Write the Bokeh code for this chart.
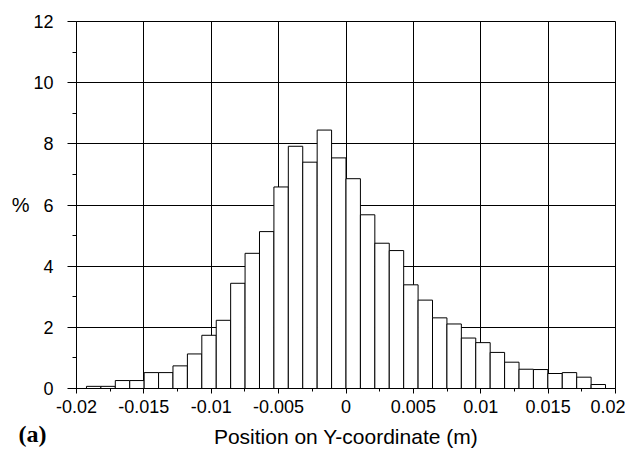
from bokeh.plotting import figure
from bokeh.models import FixedTicker, ColumnDataSource, Range1d, Title
from bokeh.embed import file_html
from bokeh.resources import INLINE

# Histogram bins (m) and percentages
bin_left = [-0.01926, -0.01819, -0.01712, -0.01605, -0.01498, -0.01391, -0.01284, -0.01177, -0.01070,
            -0.00963, -0.00856, -0.00749, -0.00642, -0.00535, -0.00428, -0.00321, -0.00214, -0.00107,
            0.0, 0.00107, 0.00214, 0.00321, 0.00428, 0.00535, 0.00642, 0.00749, 0.00856,
            0.00963, 0.01070, 0.01177, 0.01284, 0.01391, 0.01498, 0.01605, 0.01712, 0.01819]
bin_right = [-0.01819, -0.01712, -0.01605, -0.01498, -0.01391, -0.01284, -0.01177, -0.01070, -0.00963,
             -0.00856, -0.00749, -0.00642, -0.00535, -0.00428, -0.00321, -0.00214, -0.00107, 0.0,
             0.00107, 0.00214, 0.00321, 0.00428, 0.00535, 0.00642, 0.00749, 0.00856, 0.00963,
             0.01070, 0.01177, 0.01284, 0.01391, 0.01498, 0.01605, 0.01712, 0.01819, 0.01926]
percent = [0.07, 0.07, 0.26, 0.26, 0.52, 0.52, 0.74, 1.13, 1.74,
           2.23, 3.44, 4.42, 5.13, 6.59, 7.92, 7.40, 8.45, 7.54,
           6.86, 5.68, 4.75, 4.51, 3.39, 2.89, 2.31, 2.11, 1.65,
           1.50, 1.18, 0.86, 0.63, 0.62, 0.49, 0.52, 0.37, 0.13]

x_ticks = [-0.02, -0.015, -0.01, -0.005, 0.0, 0.005, 0.01, 0.015, 0.02]
x_tick_labels = ["-0.02", "-0.015", "-0.01", "-0.005", "0", "0.005", "0.01", "0.015", "0.02"]
x_minor = [-0.0175, -0.0125, -0.0075, -0.0025, 0.0025, 0.0075, 0.0125, 0.0175]
y_ticks = [0, 2, 4, 6, 8, 10, 12]
y_minor = [1, 3, 5, 7, 9, 11]

FONT = "Liberation Sans"

p = figure(width=625, height=450, output_backend="svg", toolbar_location=None,
           x_range=Range1d(-0.02, 0.02), y_range=Range1d(0, 12),
           min_border_left=76, min_border_right=10, min_border_top=21, min_border_bottom=62)
p.background_fill_color = "white"
p.border_fill_color = "white"
p.outline_line_color = "black"
p.outline_line_width = 1

src = ColumnDataSource(dict(left=bin_left, right=bin_right, top=percent, bottom=[0] * len(percent)))
p.quad(left="left", right="right", top="top", bottom="bottom", source=src,
       fill_color="white", line_color="black", line_width=1)

# grids
p.xgrid.ticker = FixedTicker(ticks=x_ticks)
p.ygrid.ticker = FixedTicker(ticks=y_ticks)
for g in (p.xgrid, p.ygrid):
    g.grid_line_color = "black"
    g.grid_line_width = 1
    g.level = "underlay"

# x axis
xa = p.xaxis[0]
xa.ticker = FixedTicker(ticks=x_ticks, minor_ticks=x_minor)
xa.major_label_overrides = {t: l for t, l in zip(x_ticks, x_tick_labels)}
xa.major_tick_in = 0
xa.major_tick_out = 5
xa.minor_tick_in = 0
xa.minor_tick_out = 3
xa.major_label_standoff = 6
xa.major_label_text_font = FONT
xa.major_label_text_font_size = "18px"
xa.major_label_text_color = "black"
xa.axis_label = "Position on Y-coordinate (m)"
xa.axis_label_text_font = FONT
xa.axis_label_text_font_size = "21px"
xa.axis_label_text_font_style = "normal"
xa.axis_label_text_color = "black"
xa.axis_label_standoff = 9
xa.axis_line_color = "black"

# y axis
ya = p.yaxis[0]
ya.ticker = FixedTicker(ticks=y_ticks, minor_ticks=y_minor)
ya.major_tick_in = 0
ya.major_tick_out = 9
ya.minor_tick_in = 0
ya.minor_tick_out = 4
ya.major_label_standoff = 14
ya.major_label_text_font = FONT
ya.major_label_text_font_size = "18px"
ya.major_label_text_color = "black"
ya.axis_label = "%"
ya.axis_label_orientation = "horizontal"
ya.axis_label_standoff = 1
ya.axis_label_text_font = FONT
ya.axis_label_text_font_size = "20px"
ya.axis_label_text_font_style = "normal"
ya.axis_label_text_color = "black"
ya.axis_line_color = "black"

panel_label = Title(text="(a)", align="left", vertical_align="top", offset=-58,
                    text_font="Liberation Serif", text_font_size="24px",
                    text_font_style="bold", text_color="black")
try:
    panel_label.standoff = -60
except Exception:
    panel_label.standoff = 0
p.add_layout(panel_label, "below")

open("out.html", "w").write(file_html(p, INLINE))
